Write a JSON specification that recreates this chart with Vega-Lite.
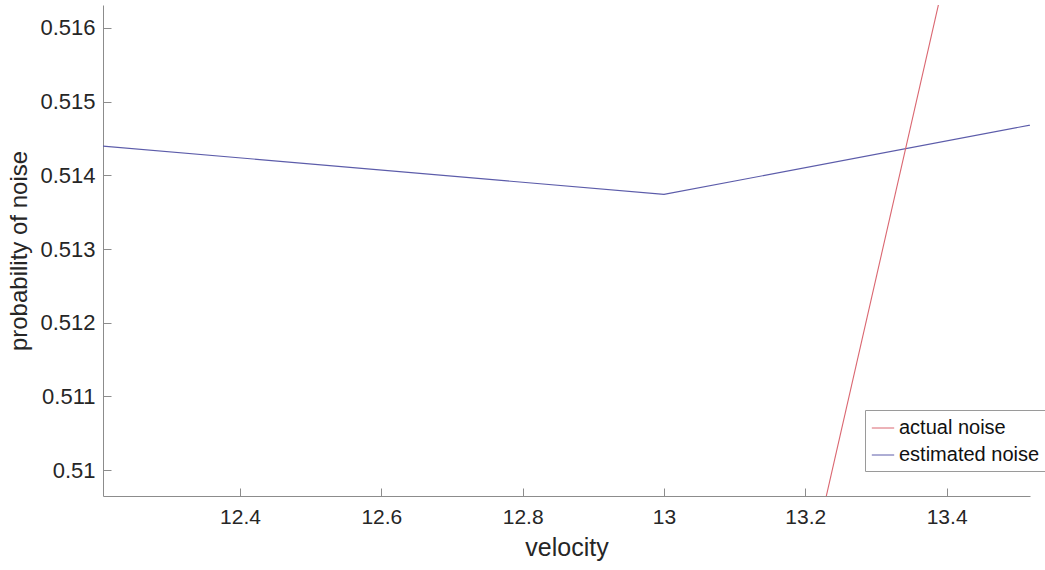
{
  "$schema": "https://vega.github.io/schema/vega-lite/v6.json",
  "width": 927,
  "height": 491,
  "autosize": {"type": "none"},
  "padding": {"left": 103, "top": 5, "right": 15, "bottom": 74},
  "background": "white",
  "config": {
    "view": {"stroke": null},
    "font": "Liberation Sans",
    "axis": {
      "grid": false,
      "domainColor": "#8c8c8c",
      "tickColor": "#8c8c8c",
      "labelColor": "#262626",
      "titleColor": "#262626",
      "labelFont": "Liberation Sans",
      "titleFont": "Liberation Sans",
      "titleFontWeight": "normal"
    }
  },
  "data": {
    "values": [
      {"velocity": 12, "p": 0.514565, "series": "estimated noise"},
      {"velocity": 13, "p": 0.513741, "series": "estimated noise"},
      {"velocity": 14, "p": 0.515554, "series": "estimated noise"},
      {"velocity": 13, "p": 0.5000, "series": "actual noise"},
      {"velocity": 14, "p": 0.5420, "series": "actual noise"}
    ]
  },
  "mark": {"type": "line", "clip": true, "strokeWidth": 1.1},
  "encoding": {
    "x": {
      "field": "velocity",
      "type": "quantitative",
      "title": "velocity",
      "scale": {"domain": [12.2061, 13.518], "nice": false, "zero": false},
      "axis": {
        "values": [12.4, 12.6, 12.8, 13, 13.2, 13.4],
        "format": "~g",
        "tickSize": -8,
        "labelFontSize": 21,
        "labelPadding": 18,
        "titleFontSize": 25,
        "titlePadding": 8
      }
    },
    "y": {
      "field": "p",
      "type": "quantitative",
      "title": "probability of noise",
      "scale": {"domain": [0.50965, 0.51631], "nice": false, "zero": false},
      "axis": {
        "values": [0.510, 0.511, 0.512, 0.513, 0.514, 0.515, 0.516],
        "format": "~g",
        "tickSize": -8,
        "labelFontSize": 22,
        "labelPadding": 16,
        "titleFontSize": 24,
        "titlePadding": 8
      }
    },
    "color": {
      "field": "series",
      "type": "nominal",
      "scale": {"domain": ["actual noise", "estimated noise"], "range": ["#da6670", "#5c5caa"]},
      "legend": {
        "title": null,
        "orient": "none",
        "legendX": 762,
        "legendY": 405,
        "direction": "vertical",
        "symbolType": "stroke",
        "symbolSize": 500,
        "symbolStrokeWidth": 1,
        "labelFontSize": 20,
        "labelColor": "#111111",
        "labelFont": "Liberation Sans",
        "rowPadding": 5,
        "padding": 6,
        "strokeColor": "#9a9a9a",
        "fillColor": "white",
        "labelOffset": 4
      }
    }
  }
}
